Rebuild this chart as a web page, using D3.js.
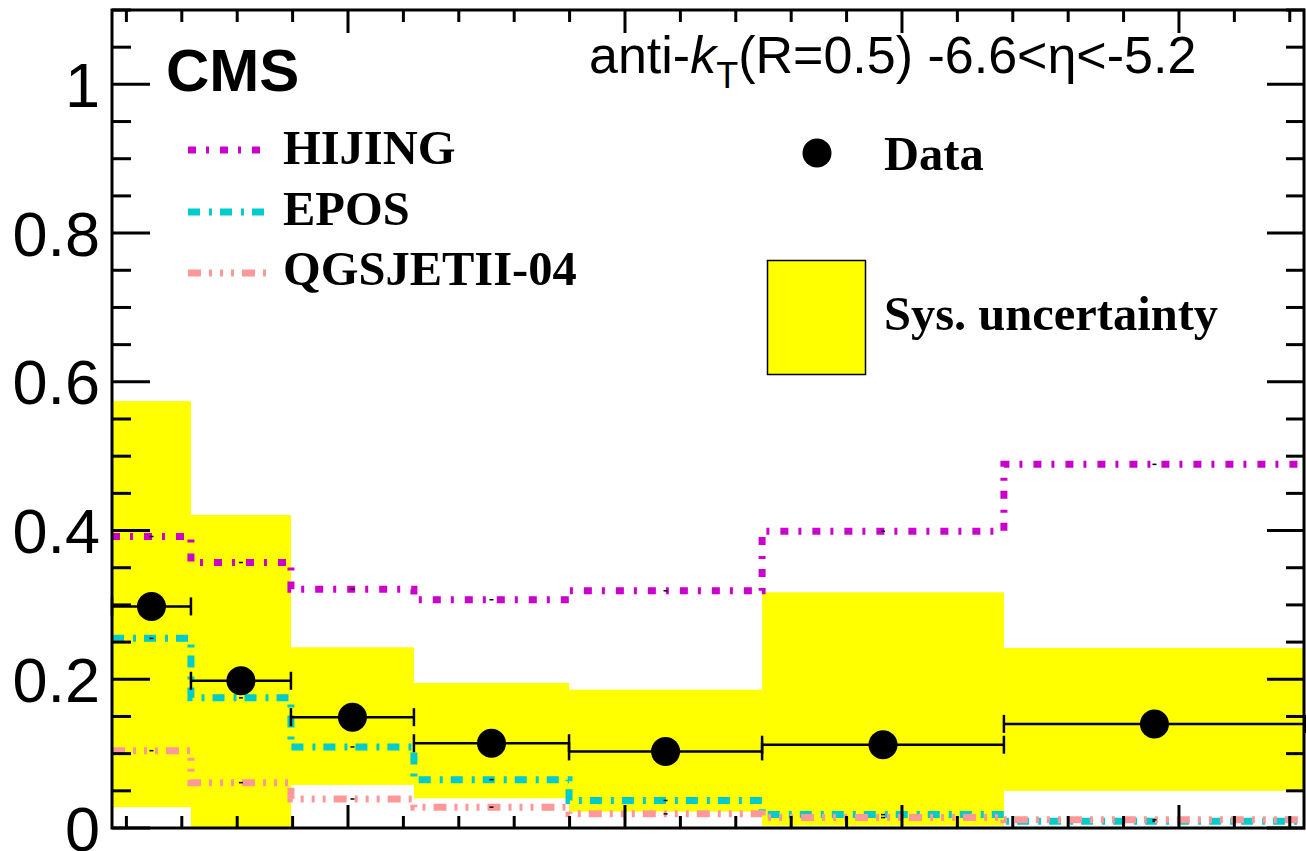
<!DOCTYPE html>
<html>
<head>
<meta charset="utf-8">
<script src="https://cdn.jsdelivr.net/npm/d3@7"></script>
<style>
  body { margin: 0; background: white; }
  svg { display: block; }
</style>
</head>
<body>
<div id="content"></div>
<script>
// Image size
var imageWidth = 1306;
var imageHeight = 851;

// Frame position
var frameLeft = 112;
var frameRight = 1305;
var frameTop = 10;
var frameBottom = 828;

// Bin edges (x units, axis labels are cropped off)
var binEdges = [1.148, 1.433, 1.794, 2.238, 2.798, 3.495, 4.368, 5.455];

// Data points
var dataValues = [0.298, 0.198, 0.149, 0.114, 0.103, 0.112, 0.140];
// Systematic band
var sysLow = [0.028, 0.0, 0.058, 0.040, 0.022, 0.003, 0.050];
var sysHigh = [0.574, 0.421, 0.243, 0.195, 0.186, 0.317, 0.242];

// Models
var hijingValues = [0.392, 0.357, 0.321, 0.307, 0.319, 0.399, 0.489];
var eposValues = [0.255, 0.175, 0.109, 0.065, 0.037, 0.018, 0.009];
var qgsjetValues = [0.104, 0.061, 0.039, 0.028, 0.019, 0.014, 0.011];

var modelNames = ["HIJING", "EPOS", "QGSJETII-04"];

// Y tick labels
var yTickValues = [0, 0.2, 0.4, 0.6, 0.8, 1];

var xScale = d3.scaleLinear()
.domain([binEdges[0], binEdges[binEdges.length - 1]])
.range([frameLeft, frameRight]);

var yScale = d3.scaleLinear()
.domain([0, 1.1])
.range([frameBottom, frameTop]);

var svg = d3.select("#content")
.append("svg")
.attr("width", imageWidth)
.attr("height", imageHeight);

// Systematic uncertainty boxes
for(var i = 0; i < dataValues.length; i++){
  svg.append("rect")
  .attr("x", xScale(binEdges[i]))
  .attr("y", yScale(sysHigh[i]))
  .attr("width", xScale(binEdges[i + 1]) - xScale(binEdges[i]))
  .attr("height", yScale(sysLow[i]) - yScale(sysHigh[i]))
  .style("fill", "#ffff00");
}

// Model step histograms
var models = [
  {values: hijingValues, color: "#cc00cc", dash: "8,10,3,11"},
  {values: eposValues, color: "#00cccc", dash: "12,9,3,8"},
  {values: qgsjetValues, color: "#ff9999", dash: "13,8,3,8,3,8,3,8"}
];

var stepLine = d3.line()
.x(function(d){ return xScale(d[0]); })
.y(function(d){ return yScale(d[1]); })
.curve(d3.curveStepAfter);

models.forEach(function(model){
  var points = model.values.map(function(v, i){ return [binEdges[i], v]; });
  points.push([binEdges[binEdges.length - 1], model.values[model.values.length - 1]]);
  svg.append("path")
  .attr("d", stepLine(points))
  .style("fill", "none")
  .style("stroke", model.color)
  .style("stroke-width", 7)
  .style("stroke-dasharray", model.dash);

  // small black marks at bin centres
  model.values.forEach(function(v, i){
    var xc = xScale((binEdges[i] + binEdges[i + 1]) / 2);
    svg.append("line")
    .attr("x1", xc - 2)
    .attr("x2", xc + 2)
    .attr("y1", yScale(v))
    .attr("y2", yScale(v))
    .style("stroke", "black")
    .style("stroke-width", 1.5);
  });
});

// Data with horizontal bars
for(var i = 0; i < dataValues.length; i++){
  var x0 = xScale(binEdges[i]);
  var x1 = xScale(binEdges[i + 1]);
  var yPos = yScale(dataValues[i]);
  svg.append("line")
  .attr("x1", x0)
  .attr("x2", x1)
  .attr("y1", yPos)
  .attr("y2", yPos)
  .style("stroke", "black")
  .style("stroke-width", 2.5);
  [x0, x1].forEach(function(xe){
    svg.append("line")
    .attr("x1", xe)
    .attr("x2", xe)
    .attr("y1", yPos - 9)
    .attr("y2", yPos + 9)
    .style("stroke", "black")
    .style("stroke-width", 2.5);
  });
  svg.append("circle")
  .attr("cx", (x0 + x1) / 2)
  .attr("cy", yPos)
  .attr("r", 14.5)
  .style("fill", "black");
}

// Frame
svg.append("rect")
.attr("x", frameLeft)
.attr("y", frameTop)
.attr("width", frameRight - frameLeft - 1)
.attr("height", frameBottom - frameTop)
.style("fill", "none")
.style("stroke", "black")
.style("stroke-width", 3);

// Y ticks (left and right)
var yTicks = d3.range(0, 1.1001, 0.05);
yTicks.forEach(function(t, k){
  var major = (k % 4 == 0);
  var len = major ? 38 : 19;
  var yPos = yScale(t);
  svg.append("line")
  .attr("x1", frameLeft)
  .attr("x2", frameLeft + len)
  .attr("y1", yPos)
  .attr("y2", yPos)
  .style("stroke", "black")
  .style("stroke-width", 3);
  svg.append("line")
  .attr("x1", frameRight)
  .attr("x2", frameRight - len)
  .attr("y1", yPos)
  .attr("y2", yPos)
  .style("stroke", "black")
  .style("stroke-width", 3);
});

// X ticks (top and bottom)
var xTicks = d3.range(1.2, 5.4001, 0.2);
xTicks.forEach(function(t){
  var major = Math.abs(t - Math.round(t)) < 0.01;
  var len = major ? 23 : 12;
  var xPos = xScale(t);
  svg.append("line")
  .attr("x1", xPos)
  .attr("x2", xPos)
  .attr("y1", frameBottom)
  .attr("y2", frameBottom - len)
  .style("stroke", "black")
  .style("stroke-width", 3);
  svg.append("line")
  .attr("x1", xPos)
  .attr("x2", xPos)
  .attr("y1", frameTop)
  .attr("y2", frameTop + len)
  .style("stroke", "black")
  .style("stroke-width", 3);
});

// Y tick labels
yTickValues.forEach(function(t){
  svg.append("text")
  .attr("x", 100)
  .attr("y", yScale(t))
  .attr("dy", "0.36em")
  .attr("text-anchor", "end")
  .style("font-family", "'Liberation Sans', Arial, sans-serif")
  .style("font-size", "63px")
  .text(t);
});

// CMS label
svg.append("text")
.attr("x", 166)
.attr("y", 91)
.style("font-family", "'Liberation Sans', Arial, sans-serif")
.style("font-weight", "bold")
.style("font-size", "60px")
.text("CMS");

// Jet definition
var jetText = svg.append("text")
.attr("x", 589)
.attr("y", 73)
.style("font-family", "'Liberation Sans', Arial, sans-serif")
.style("font-size", "52px");
jetText.append("tspan").text("anti-");
jetText.append("tspan").style("font-style", "italic").text("k");
jetText.append("tspan").attr("dy", 15).style("font-size", "36px").text("T");
jetText.append("tspan").attr("dy", -15).text("(R=0.5) -6.6<\u03b7<-5.2");

// Legend: models
var legendY = [150, 212, 273];
var legendTextY = [164, 225, 285];
models.forEach(function(model, i){
  svg.append("line")
  .attr("x1", 188)
  .attr("x2", 266)
  .attr("y1", legendY[i])
  .attr("y2", legendY[i])
  .style("stroke", model.color)
  .style("stroke-width", 7)
  .style("stroke-dasharray", model.dash);
  svg.append("text")
  .attr("x", 283)
  .attr("y", legendTextY[i])
  .style("font-family", "'Liberation Serif', 'Times New Roman', serif")
  .style("font-weight", "bold")
  .style("font-size", "48.5px")
  .text(modelNames[i]);
});

// Legend: data
svg.append("circle")
.attr("cx", 817)
.attr("cy", 153)
.attr("r", 14.5)
.style("fill", "black");
svg.append("text")
.attr("x", 884)
.attr("y", 170)
.style("font-family", "'Liberation Serif', 'Times New Roman', serif")
.style("font-weight", "bold")
.style("font-size", "48.5px")
.text("Data");

// Legend: sys
svg.append("rect")
.attr("x", 767.5)
.attr("y", 260.5)
.attr("width", 98)
.attr("height", 114)
.style("fill", "#ffff00")
.style("stroke", "black")
.style("stroke-width", 1.5);
svg.append("text")
.attr("x", 884)
.attr("y", 330)
.style("font-family", "'Liberation Serif', 'Times New Roman', serif")
.style("font-weight", "bold")
.style("font-size", "48.5px")
.text("Sys. uncertainty");
</script>
</body>
</html>
